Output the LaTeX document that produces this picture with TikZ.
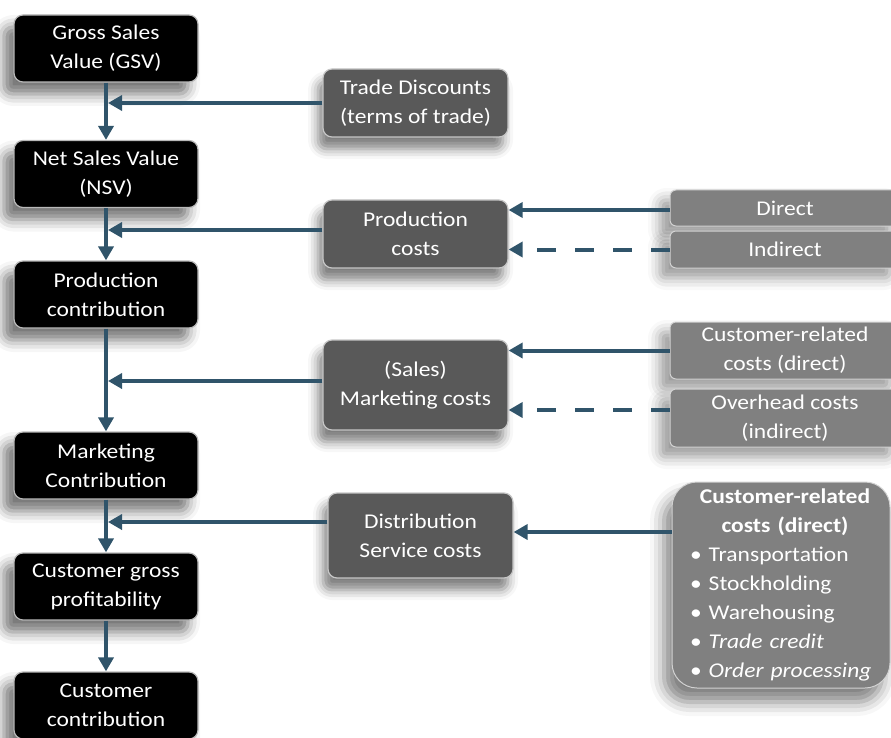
\documentclass[tikz,border=0pt]{standalone}
\usepackage{fontspec}
\setmainfont{Carlito}[FakeStretch=1.12]
\usetikzlibrary{arrows.meta,shadows.blur}
\definecolor{linec}{HTML}{30546A}
\definecolor{midg}{HTML}{595959}
\definecolor{rtg}{HTML}{808080}
\begin{document}
\begin{tikzpicture}[x=1pt,y=-1pt,
  base/.style={text=white, align=center, inner sep=0pt,
    font=\fontsize{21}{29}\selectfont},
  lbox/.style={base, rounded corners=9pt, fill=black, draw=gray!55, line width=1.2pt,
    minimum width=184pt, minimum height=67pt,
    blur shadow={shadow xshift=-10pt, shadow yshift=-12pt, shadow blur radius=12pt, shadow opacity=55}},
  mbox/.style={base, rounded corners=9pt, fill=midg, draw=gray!45, line width=1.2pt,
    minimum width=185pt,
    blur shadow={shadow xshift=-5pt, shadow yshift=-12pt, shadow blur radius=10pt, shadow opacity=50}},
  rbox/.style={base, rounded corners=6pt, fill=rtg, draw=gray!35, line width=1pt,
    minimum width=230pt,
    blur shadow={shadow xshift=-10pt, shadow yshift=-10pt, shadow blur radius=12pt, shadow opacity=40}},
  flow/.style={draw=linec, line width=4pt, -{Triangle[length=14pt,width=15pt]}},
  dflow/.style={flow, dash pattern=on 19pt off 19pt},
]
\useasboundingbox (0,0) rectangle (891,738);
\clip (0,0) rectangle (891,738);

% left column
\node[lbox] (L1) at (106,48.5) {Gross Sales\\Value (GSV)};
\node[lbox] (L2) at (106,174) {Net Sales Value\\(NSV)};
\node[lbox] (L3) at (106,294.5) {Production\\contribution};
\node[lbox] (L4) at (106,465.5) {Marketing\\Contribution};
\node[lbox] (L5) at (106,586.5) {Customer gross\\profitability};
\node[lbox] (L6) at (106,705.5) {Customer\\contribution};

% middle column
\node[mbox, minimum height=68pt] (TD) at (415.5,103) {Trade Discounts\\(terms of trade)};
\node[mbox, minimum height=68pt] (PC) at (415.5,234) {Production\\costs};
\node[mbox, minimum height=90pt] (MC) at (415.5,385) {(Sales)\\Marketing costs};
\node[mbox, minimum height=85pt] (DC) at (420.5,535.5) {Distribution\\Service costs};

% right column
\node[rbox, minimum height=36pt] (DI) at (785,208) {Direct};
\node[rbox, minimum height=37pt] (IN) at (785,249.5) {Indirect};
\node[rbox, minimum height=57pt] (CR) at (785,350.5) {Customer-related\\costs (direct)};
\node[rbox, minimum height=58pt] (OH) at (785,418) {Overhead costs\\(indirect)};
\node[base, rounded corners=25pt, fill=rtg, draw=gray!35, line width=1pt,
  minimum width=218pt, minimum height=206pt, text width=182pt,
  blur shadow={shadow xshift=-8pt, shadow yshift=-14pt, shadow blur radius=14pt, shadow opacity=50}]
  (BIG) at (781,585)
  {{\centering\bfseries\hspace*{8pt}Customer-related\\\hspace*{8pt}costs (direct)\par}\raggedright
   • Transportation\\
   • Stockholding\\
   • Warehousing\\
   • \textit{Trade credit}\\
   • \textit{Order processing}\par};

% main vertical flow
\draw[flow] (L1) -- (L2);
\draw[flow] (L2) -- (L3);
\draw[flow] (L3) -- (L4);
\draw[flow] (L4) -- (L5);
\draw[flow] (L5) -- (L6);

% feed-ins from the middle column
\coordinate (tdin) at (TD.west);
\coordinate (pcin) at ([yshift=4pt]PC.west);
\coordinate (mcin) at ([yshift=4pt]MC.west);
\coordinate (dcin) at ([yshift=13.5pt]DC.west);
\draw[flow, shorten >=2pt] (tdin) -- (tdin -| L1.center);
\draw[flow, shorten >=2pt] (pcin) -- (pcin -| L1.center);
\draw[flow, shorten >=2pt] (mcin) -- (mcin -| L1.center);
\draw[flow, shorten >=2pt] (dcin) -- (dcin -| L1.center);

% feed-ins from the right column
\coordinate (diin) at ([yshift=-2pt]DI.west);
\coordinate (inin) at (IN.west);
\coordinate (crin) at (CR.west);
\coordinate (ohin) at ([yshift=8pt]OH.west);
\coordinate (bgin) at ([yshift=53pt]BIG.west);
\draw[flow] (diin) -- (diin -| PC.east);
\draw[dflow] (inin) -- (inin -| PC.east);
\draw[flow] (crin) -- (crin -| MC.east);
\draw[dflow] (ohin) -- (ohin -| MC.east);
\draw[flow] (bgin) -- (bgin -| DC.east);
\end{tikzpicture}
\end{document}
